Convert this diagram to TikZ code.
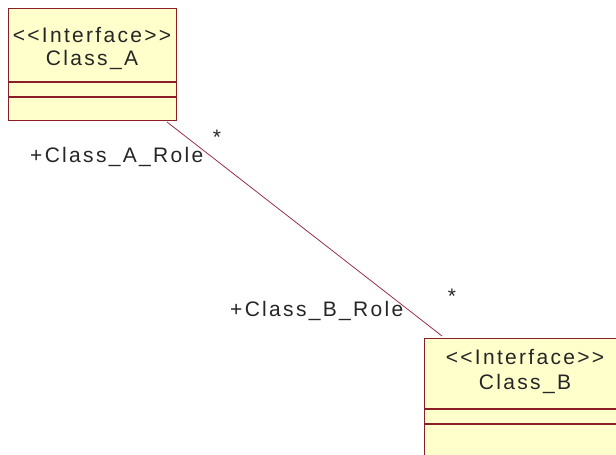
\documentclass[tikz,border=0pt]{standalone}
\usepackage{fontspec}
\setmainfont{Liberation Sans}[LetterSpace=11, Ligatures=TeXOff]
\begin{document}
\begin{tikzpicture}[x=1pt,y=-1pt,
  umlbox/.style={draw=umlred, fill=umlfill, line width=1.2pt, rectangle, inner sep=0pt, anchor=north west},
  divider/.style={draw=umlred, line width=1.2pt},
  assoc/.style={draw=umlline, line width=0.8pt},
  lbl/.style={font=\fontsize{21}{25}\selectfont, text=black!85, inner sep=0pt}]
\definecolor{umlred}{RGB}{140,30,40}
\definecolor{umlfill}{RGB}{255,255,204}
\definecolor{umlline}{RGB}{150,50,70}
\useasboundingbox (0,0) rectangle (616,455);
\clip (0,0) rectangle (616,455);
% Class_A
\node[umlbox, minimum width=168pt, minimum height=112pt] (A) at (8,8) {};
\draw[divider] (8,82) -- (176,82);
\draw[divider] (8,97) -- (176,97);
\node[lbl] (Ast) at (92,35) {<<Interface>>};
\node[lbl] (Anm) at (92,60) {Class\_A};
% Class_B
\node[umlbox, minimum width=200pt, minimum height=140pt] (B) at (424,338) {};
\draw[divider] (424,409) -- (624,409);
\draw[divider] (424,424) -- (624,424);
\node[lbl] (Bst) at (525,357) {<<Interface>>};
\node[lbl] (Bnm) at (525,384) {Class\_B};
% association
\coordinate (a1) at (167,122);
\coordinate (b1) at (442,336);
\draw[assoc] (a1) -- (b1);
\node[lbl, anchor=west] (Arole) at (30,157) {+Class\_A\_Role};
\node[lbl] (Amul) at (217,137) {*};
\node[lbl, anchor=west] (Brole) at (230,311) {+Class\_B\_Role};
\node[lbl] (Bmul) at (452,296) {*};
\end{tikzpicture}
\end{document}
